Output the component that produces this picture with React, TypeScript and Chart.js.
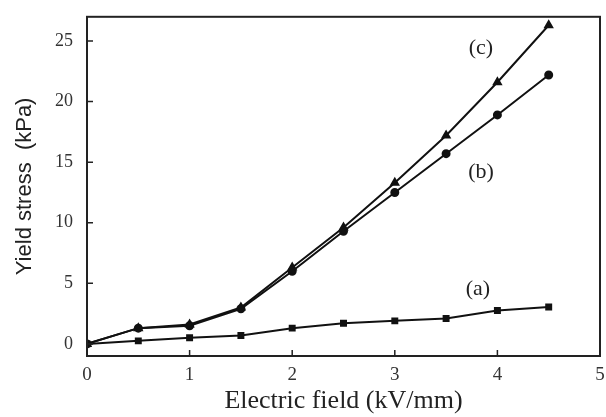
import React, { useEffect, useRef } from 'react';
import { Chart, registerables } from 'chart.js';
Chart.register(...registerables);

const fieldValues = [0, 0.5, 1, 1.5, 2, 2.5, 3, 3.5, 4, 4.5];
const seriesA = [0, 0.25, 0.5, 0.7, 1.3, 1.7, 1.9, 2.1, 2.75, 3.05];
const seriesB = [0, 1.3, 1.5, 2.9, 6.0, 9.3, 12.5, 15.7, 18.9, 22.2];
const seriesC = [0, 1.3, 1.6, 3.0, 6.3, 9.6, 13.3, 17.2, 21.6, 26.3];
const xTicks = [0, 1, 2, 3, 4, 5];
const yTicks = [0, 5, 10, 15, 20, 25];
const curveLabels = ['(c)', '(b)', '(a)'];
const curveLabelX = [3.84, 3.84, 3.81];
const curveLabelY = [24.4, 14.2, 4.5];

const SERIF = '"Liberation Serif", "Times New Roman", serif';
const SANS = '"Liberation Sans", Arial, sans-serif';

const boxAndTicks = {
  id: 'boxAndTicks',
  afterDraw(chart: any) {
    const { ctx, chartArea, scales } = chart;
    const { left, right, top, bottom } = chartArea;
    ctx.save();
    ctx.strokeStyle = '#222';
    ctx.lineWidth = 2;
    ctx.strokeRect(left, top, right - left, bottom - top);
    ctx.lineWidth = 1.5;
    ctx.beginPath();
    xTicks.forEach((v) => {
      const px = scales.x.getPixelForValue(v);
      ctx.moveTo(px, bottom);
      ctx.lineTo(px, bottom - 6);
    });
    yTicks.forEach((v) => {
      const py = scales.y.getPixelForValue(v);
      ctx.moveTo(left, py);
      ctx.lineTo(left + 6, py);
    });
    ctx.stroke();
    ctx.fillStyle = '#222';
    ctx.font = `22px ${SERIF}`;
    ctx.textAlign = 'center';
    ctx.textBaseline = 'middle';
    curveLabels.forEach((t, i) => {
      ctx.fillText(t, scales.x.getPixelForValue(curveLabelX[i]), scales.y.getPixelForValue(curveLabelY[i]));
    });
    ctx.restore();
  },
};

export default function App() {
  const ref = useRef<HTMLCanvasElement | null>(null);
  useEffect(() => {
    document.body.style.margin = '0';
    const mk = (vals: number[]) => fieldValues.map((x, i) => ({ x, y: vals[i] }));
    const common = {
      borderColor: '#111',
      backgroundColor: '#111',
      borderWidth: 2,
      pointRadius: 3.5,
      showLine: true,
      tension: 0,
    };
    const chart = new Chart(ref.current as HTMLCanvasElement, {
      type: 'scatter',
      data: {
        datasets: [
          { ...common, label: '(a)', data: mk(seriesA), pointStyle: 'rect', pointRadius: 3.5 },
          { ...common, label: '(b)', data: mk(seriesB), pointStyle: 'circle' },
          { ...common, label: '(c)', data: mk(seriesC), pointStyle: 'triangle', pointRadius: 4 },
        ],
      },
      options: {
        animation: false,
        responsive: false,
        layout: { padding: { left: 0, right: 6, top: 11, bottom: 0 } },
        plugins: { legend: { display: false }, tooltip: { enabled: false } },
        scales: {
          x: {
            type: 'linear',
            min: 0,
            max: 5,
            grid: { display: false },
            border: { display: false },
            afterBuildTicks: (s: any) => { s.ticks = xTicks.map((v) => ({ value: v })); },
            afterFit: (s: any) => { s.height = 61; },
            ticks: { color: '#333', font: { family: SERIF, size: 19 }, padding: 0 },
            title: {
              display: true,
              text: 'Electric field (kV/mm)',
              color: '#222',
              font: { family: SERIF, size: 26 },
              padding: { top: 0, bottom: 0 },
            },
          },
          y: {
            type: 'linear',
            min: -1,
            max: 27,
            grid: { display: false },
            border: { display: false },
            afterBuildTicks: (s: any) => { s.ticks = yTicks.map((v) => ({ value: v })); },
            afterFit: (s: any) => { s.width = 87; },
            ticks: { color: '#333', font: { family: SERIF, size: 18 }, padding: 6 },
            title: {
              display: true,
              text: 'Yield stress  (kPa)',
              color: '#222',
              font: { family: SANS, size: 22 },
              padding: { top: 12, bottom: 0 },
            },
          },
        },
      },
      plugins: [boxAndTicks],
    });
    return () => chart.destroy();
  }, []);
  return (
    <div style={{ width: 606, height: 417, background: '#fff' }}>
      <canvas ref={ref} width={606} height={417} style={{ display: 'block' }} />
    </div>
  );
}
